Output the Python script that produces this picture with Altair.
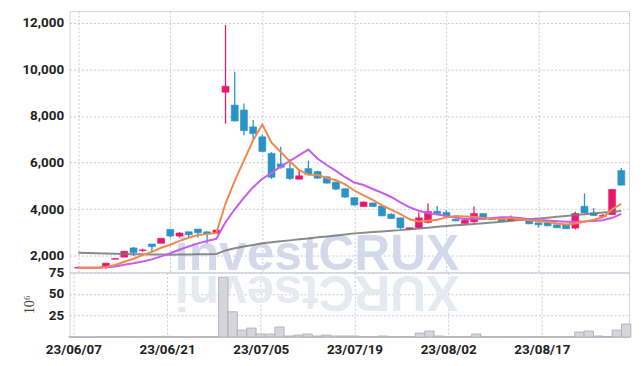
import altair as alt
import pandas as pd

dates = [
    "23/06/07", "23/06/08", "23/06/09", "23/06/12", "23/06/13", "23/06/14", "23/06/15", "23/06/16",
    "23/06/19", "23/06/20", "23/06/21", "23/06/22", "23/06/23", "23/06/26", "23/06/27", "23/06/28",
    "23/06/29", "23/06/30", "23/07/03", "23/07/04", "23/07/05", "23/07/06", "23/07/07", "23/07/10",
    "23/07/11", "23/07/12", "23/07/13", "23/07/14", "23/07/17", "23/07/18", "23/07/19", "23/07/20",
    "23/07/21", "23/07/24", "23/07/25", "23/07/26", "23/07/27", "23/07/28", "23/07/31", "23/08/01",
    "23/08/02", "23/08/03", "23/08/04", "23/08/07", "23/08/08", "23/08/09", "23/08/10", "23/08/11",
    "23/08/14", "23/08/16", "23/08/17", "23/08/18", "23/08/21", "23/08/22", "23/08/23", "23/08/24",
    "23/08/25", "23/08/28", "23/08/29", "23/08/30",
]
opens = [1475, 1500, 1500, 1519, 1855, 1945, 2340, 2230, 2510, 2540, 3136, 2851, 3034, 3149, 3030,
         2964, 9021, 8468, 8255, 7532, 7106, 6395, 5943, 5744, 5289, 5744, 5617, 5391, 5163, 4880,
         4498, 4115, 4268, 4140, 3787, 3630, 3136, 3205, 3434, 3915, 3859, 3574, 3391, 3460, 3817,
         3590, 3604, 3502, 3545, 3532, 3417, 3417, 3332, 3319, 3191, 4127, 3844, 3695, 3774, 5660]
highs = [1510, 1505, 1505, 1689, 1895, 2200, 2380, 2310, 2510, 2753, 3136, 3020, 3034, 3149, 3060,
         3120, 11902, 9901, 8540, 7829, 7220, 6450, 6681, 6157, 5702, 6085, 5660, 5420, 5190, 4900,
         4510, 4330, 4290, 4150, 3830, 3640, 3220, 3859, 4242, 4140, 3960, 3590, 3640, 4115, 3817,
         3600, 3610, 3730, 3585, 3540, 3420, 3420, 3340, 3320, 3900, 4681, 4050, 3800, 4870, 5774]
lows = [1470, 1470, 1470, 1447, 1850, 1945, 2000, 2170, 2170, 2540, 2790, 2800, 2780, 2790, 2540,
        2964, 7672, 7760, 7179, 7008, 6450, 5300, 5740, 5260, 5289, 5460, 5320, 5100, 4820, 4480,
        4150, 4100, 4100, 3700, 3590, 3140, 3120, 3160, 3390, 3780, 3690, 3490, 3391, 3420, 3560,
        3555, 3480, 3500, 3540, 3360, 3220, 3270, 3200, 3150, 3130, 3830, 3720, 3650, 3760, 5020]
closes = [1510, 1475, 1475, 1689, 1890, 2200, 2140, 2260, 2396, 2753, 2851, 2979, 2906, 2991, 2940,
          3106, 9276, 7787, 7376, 7246, 6480, 5374, 5800, 5319, 5434, 5489, 5332, 5120, 4864, 4523,
          4183, 4311, 4115, 3715, 3604, 3205, 3205, 3630, 3902, 3815, 3702, 3502, 3532, 3817, 3574,
          3560, 3489, 3645, 3580, 3375, 3332, 3289, 3205, 3162, 3817, 3844, 3732, 3735, 4851, 5034]
ma5 = [1490, 1489, 1488, 1528, 1607, 1748, 1879, 2033, 2174, 2348, 2478, 2646, 2777, 2896, 2933,
       2984, 4244, 5220, 6097, 6958, 7633, 6853, 6455, 6044, 5681, 5483, 5475, 5339, 5248, 5066,
       4804, 4600, 4399, 4169, 3986, 3790, 3569, 3472, 3509, 3551, 3651, 3710, 3691, 3674, 3625,
       3599, 3596, 3619, 3569, 3529, 3481, 3450, 3385, 3350, 3390, 3463, 3552, 3656, 3994, 4237]
ma10 = [1490, 1489, 1488, 1508, 1548, 1619, 1684, 1760, 1851, 1977, 2113, 2262, 2405, 2535, 2641,
        2731, 3445, 3999, 4497, 4946, 5309, 5548, 5838, 6070, 6320, 6558, 6164, 5897, 5646, 5374,
        5144, 5038, 4869, 4709, 4526, 4297, 4085, 3936, 3839, 3769, 3720, 3640, 3581, 3591, 3588,
        3625, 3653, 3655, 3621, 3577, 3540, 3519, 3486, 3460, 3465, 3480, 3500, 3530, 3633, 3799]
ma60 = [2130, 2120, 2110, 2100, 2090, 2080, 2072, 2066, 2060, 2055, 2050, 2055, 2060, 2065, 2070,
        2080, 2234, 2328, 2400, 2470, 2540, 2580, 2625, 2665, 2710, 2750, 2795, 2835, 2875, 2920,
        2965, 2995, 3020, 3050, 3080, 3105, 3140, 3175, 3210, 3245, 3277, 3310, 3340, 3370, 3400,
        3434, 3468, 3502, 3536, 3570, 3604, 3640, 3676, 3712, 3750, 3787, 3822, 3857, 3892, 3928]
volume = [0.3, 0.2, 0.2, 0.5, 0.4, 0.6, 0.5, 0.3, 0.4, 0.6, 0.8, 0.4, 0.3, 0.3, 0.4, 0.5,
          69.5, 29.3, 8.1, 10.4, 3.5, 3.5, 11.6, 1.2, 2.3, 3.5, 1.2, 2.3, 1.2, 1.2, 1.2, 0.6,
          0.5, 1.2, 0.5, 0.6, 0.4, 4.6, 7.0, 1.2, 0.5, 0.4, 0.6, 3.5, 0.5, 0.3, 0.4, 0.5,
          0.3, 0.4, 0.4, 0.3, 0.3, 0.4, 5.8, 7.0, 1.2, 0.6, 8.1, 15.0]
tick_idx = [0, 10, 20, 30, 40, 50]
price_ticks = [2000, 4000, 6000, 8000, 10000, 12000]
vol_ticks = [25, 50, 75]
watermark = "investCRUX"

df = pd.DataFrame({
    "i": list(range(len(dates))), "date": dates, "open": opens, "high": highs,
    "low": lows, "close": closes, "ma5": ma5, "ma10": ma10, "ma60": ma60, "vol": volume,
})
df["dir"] = ["up" if c >= o else "down" for o, c in zip(opens, closes)]

FONT = "Roboto"
GRID = "#c6cadb"
RED = "#e8196b"
BLUE = "#2b93c6"
ORANGE = "#ef8a4c"
PURPLE = "#c95ce9"
GRAY = "#777777"
W = 563

xscale = alt.Scale(domain=[-0.4, 59.3], nice=False, zero=False)
label_expr = "[" + ",".join("'%s'" % d for d in dates) + "][datum.value]"
color = alt.Color("dir:N", scale=alt.Scale(domain=["up", "down"], range=[RED, BLUE]), legend=None)

x_axis_top = alt.Axis(values=tick_idx, labels=False, ticks=False, domain=False, grid=True,
                      gridDash=[2, 2], gridColor=GRID, title=None)
yscale = alt.Scale(domain=[1290, 12500], nice=False, zero=False)
y_axis = alt.Axis(values=price_ticks, labelExpr="format(datum.value, ',')", ticks=False,
                  domain=False, grid=True, gridDash=[2, 2], gridColor=GRID, title=None,
                  labelPadding=6, minExtent=50, maxExtent=50)


def X(field):
    return alt.X(field, scale=xscale, axis=x_axis_top)


def Y(field):
    return alt.Y(field, scale=yscale, axis=y_axis)


base = alt.Chart(df)

wm = alt.Chart(pd.DataFrame({"t": [watermark]})).mark_text(
    font="Liberation Sans", fontWeight="bold", fontSize=50, color="#d3d8ea",
    align="center", baseline="alphabetic"
).encode(x=alt.value(249), y=alt.value(261), text="t:N")

wicks = base.mark_rule(strokeWidth=1.3).encode(x=X("i:Q"), y=Y("low:Q"), y2="high:Q", color=color)
bodies = base.mark_bar(size=7, strokeWidth=0.6).encode(
    x=X("i:Q"), y=Y("open:Q"), y2="close:Q", color=color, stroke=color)
l60 = base.mark_line(color=GRAY, strokeWidth=2, opacity=0.85).encode(x=X("i:Q"), y=Y("ma60:Q"))
l10 = base.mark_line(color=PURPLE, strokeWidth=2).encode(x=X("i:Q"), y=Y("ma10:Q"))
l5 = base.mark_line(color=ORANGE, strokeWidth=2).encode(x=X("i:Q"), y=Y("ma5:Q"))

price = alt.layer(wm, wicks, bodies, l60, l10, l5).properties(width=W, height=263)

refl = alt.Chart(pd.DataFrame({"t": [watermark[::-1]]})).mark_text(
    font="Liberation Sans", fontWeight="bold", fontSize=50, color="#e7e9f1",
    align="center", baseline="alphabetic", angle=180
).encode(x=alt.value(249), y=alt.value(4), text="t:N")

vbars = base.transform_calculate(x0="datum.i - 0.5", x1="datum.i + 0.5").mark_bar(
    color="#d5d5da", stroke="#aaaab2", strokeWidth=0.8
).encode(
    x=alt.X("x0:Q", scale=xscale,
            axis=alt.Axis(values=tick_idx, labelExpr=label_expr, ticks=False, domain=True,
                          domainColor="#c8c8cc", grid=True, gridDash=[2, 2], gridColor=GRID,
                          title=None, labelPadding=6)),
    x2="x1:Q",
    y=alt.Y("vol:Q", stack=None, scale=alt.Scale(domain=[0, 75], nice=False),
            axis=alt.Axis(values=vol_ticks, ticks=False, domain=False, grid=True,
                          gridDash=[2, 2], gridColor=GRID, labelPadding=6,
                          title="10⁶", titleFont="Liberation Serif", titleFontWeight="normal",
                          titleFontSize=14, titleColor="#444444", titleX=-33, titleY=32,
                          titleAngle=-90, minExtent=50, maxExtent=50)),
    y2=alt.datum(0),
)
vol = alt.layer(refl, vbars).properties(width=W, height=65)

chart = alt.vconcat(price, vol, spacing=0, bounds="flush").properties(
    padding={"left": 11, "top": 1, "right": 2, "bottom": 0}, background="white"
).configure_view(stroke="#d2d4dc").configure_axis(
    labelFont=FONT, labelFontSize=13.5, labelFontWeight="bold", labelColor="#222222"
)

chart.save("out.html", embed_options={"renderer": "svg", "actions": False})
